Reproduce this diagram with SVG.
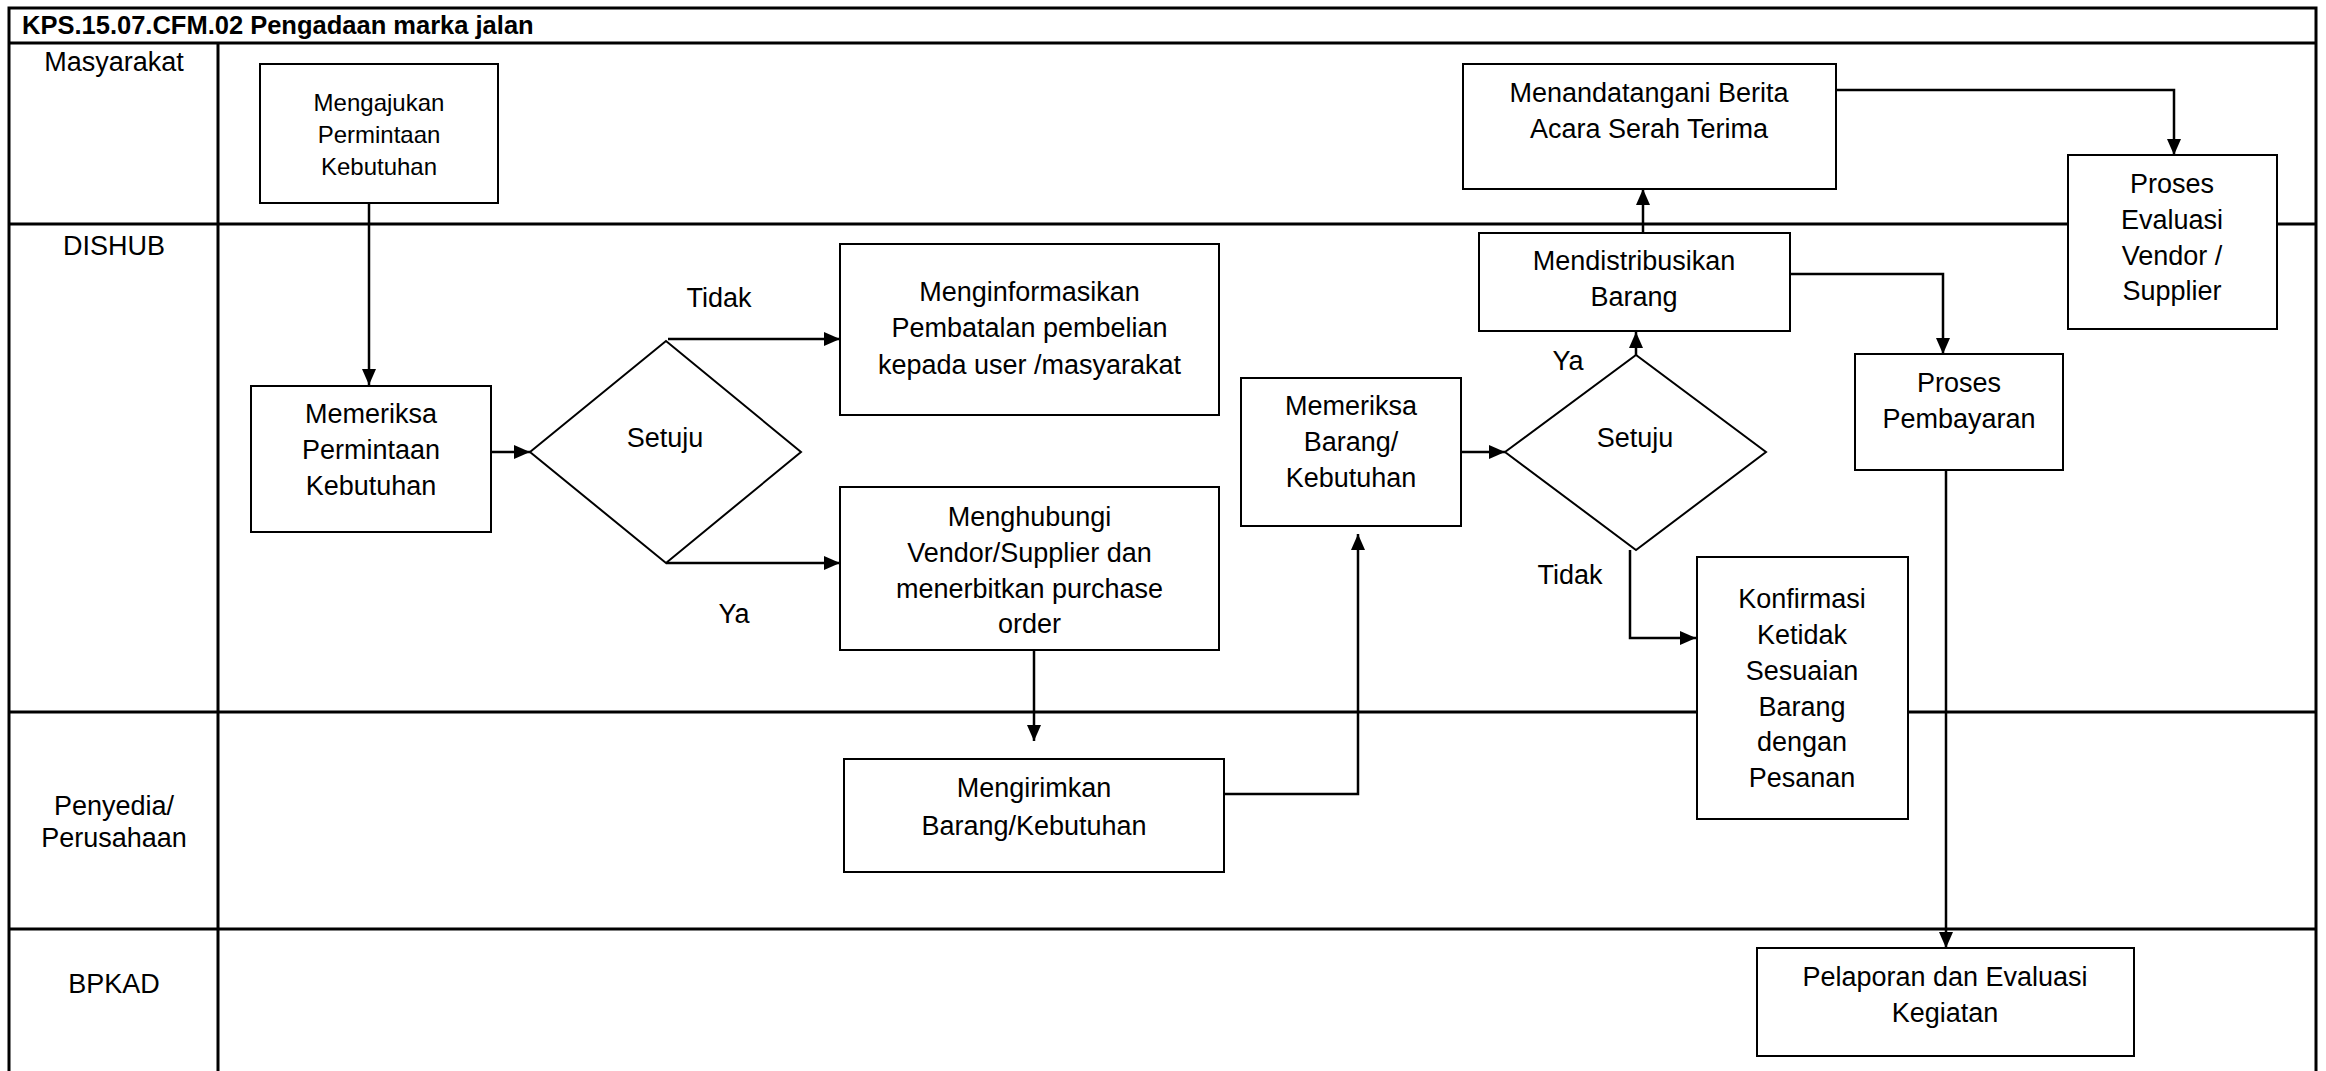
<svg xmlns="http://www.w3.org/2000/svg" width="2326" height="1071" viewBox="0 0 2326 1071">
<style>
  text { font-family: "Liberation Sans", Arial, sans-serif; font-size: 27px; fill: #000; }
  .c { text-anchor: middle; }
  .sm { font-size: 24px; }
  .title { font-weight: bold; font-size: 25.5px; }
  .lane { stroke: #000; stroke-width: 3; fill: none; }
  .box { fill: #fff; stroke: #000; stroke-width: 2; }
  .conn { fill: none; stroke: #000; stroke-width: 2.5; }
</style>
<defs>
  <marker id="arr" markerUnits="userSpaceOnUse" markerWidth="16" markerHeight="14" refX="16" refY="7" orient="auto">
    <path d="M0,0 L16,7 L0,14 Z" fill="#000"/>
  </marker>
</defs>
<rect x="0" y="0" width="2326" height="1071" fill="#fff"/>
<g id="lanes">
  <path class="lane" d="M9,1071 V8 H2316 V1071"/>
  <line class="lane" x1="9" y1="43" x2="2316" y2="43"/>
  <line class="lane" x1="9" y1="224" x2="2316" y2="224"/>
  <line class="lane" x1="9" y1="712" x2="2316" y2="712"/>
  <line class="lane" x1="9" y1="929" x2="2316" y2="929"/>
  <line class="lane" x1="218" y1="43" x2="218" y2="1071"/>
  <text class="title" x="22" y="34">KPS.15.07.CFM.02 Pengadaan marka jalan</text>
  <text class="c" x="114" y="71">Masyarakat</text>
  <text class="c" x="114" y="255">DISHUB</text>
  <text class="c" x="114" y="815">Penyedia/</text>
  <text class="c" x="114" y="847">Perusahaan</text>
  <text class="c" x="114" y="993">BPKAD</text>
</g>
<g id="connectors">
  <path class="conn" d="M369,203 V385" marker-end="url(#arr)"/>
  <path class="conn" d="M491,452 H530" marker-end="url(#arr)"/>
  <path class="conn" d="M668,339 H840" marker-end="url(#arr)"/>
  <path class="conn" d="M666,563 H840" marker-end="url(#arr)"/>
  <path class="conn" d="M1034,650 V741" marker-end="url(#arr)"/>
  <path class="conn" d="M1224,794 H1358 V534" marker-end="url(#arr)"/>
  <path class="conn" d="M1461,452 H1505" marker-end="url(#arr)"/>
  <path class="conn" d="M1636,355 V332" marker-end="url(#arr)"/>
  <path class="conn" d="M1630,550 V638 H1696" marker-end="url(#arr)"/>
  <path class="conn" d="M1643,233 V189" marker-end="url(#arr)"/>
  <path class="conn" d="M1836,90 H2174 V155" marker-end="url(#arr)"/>
  <path class="conn" d="M1790,274 H1943 V354" marker-end="url(#arr)"/>
  <path class="conn" d="M1946,470 V948" marker-end="url(#arr)"/>
  <text class="c" x="719" y="307">Tidak</text>
  <text class="c" x="734" y="623">Ya</text>
  <text class="c" x="1568" y="370">Ya</text>
  <text class="c" x="1570" y="584">Tidak</text>
</g>
<g id="n1">
  <rect class="box" x="260" y="64" width="238" height="139"/>
  <text class="c sm" x="379" y="111">Mengajukan</text>
  <text class="c sm" x="379" y="143">Permintaan</text>
  <text class="c sm" x="379" y="175">Kebutuhan</text>
</g>
<g id="n2">
  <rect class="box" x="251" y="386" width="240" height="146"/>
  <text class="c" x="371" y="423">Memeriksa</text>
  <text class="c" x="371" y="459">Permintaan</text>
  <text class="c" x="371" y="495">Kebutuhan</text>
</g>
<g id="d1">
  <polygon class="box" points="530,452 666,341 801,452 666,563"/>
  <text class="c" x="665" y="447">Setuju</text>
</g>
<g id="n4">
  <rect class="box" x="840" y="244" width="379" height="171"/>
  <text class="c" x="1029.5" y="301">Menginformasikan</text>
  <text class="c" x="1029.5" y="337">Pembatalan pembelian</text>
  <text class="c" x="1029.5" y="374">kepada user /masyarakat</text>
</g>
<g id="n5">
  <rect class="box" x="840" y="487" width="379" height="163"/>
  <text class="c" x="1029.5" y="526">Menghubungi</text>
  <text class="c" x="1029.5" y="562">Vendor/Supplier dan</text>
  <text class="c" x="1029.5" y="598">menerbitkan purchase</text>
  <text class="c" x="1029.5" y="633">order</text>
</g>
<g id="n6">
  <rect class="box" x="844" y="759" width="380" height="113"/>
  <text class="c" x="1034" y="797">Mengirimkan</text>
  <text class="c" x="1034" y="835">Barang/Kebutuhan</text>
</g>
<g id="n7">
  <rect class="box" x="1241" y="378" width="220" height="148"/>
  <text class="c" x="1351" y="415">Memeriksa</text>
  <text class="c" x="1351" y="451">Barang/</text>
  <text class="c" x="1351" y="487">Kebutuhan</text>
</g>
<g id="d2">
  <polygon class="box" points="1505,452 1636,355 1766,452 1636,550"/>
  <text class="c" x="1635" y="447">Setuju</text>
</g>
<g id="n9">
  <rect class="box" x="1479" y="233" width="311" height="98"/>
  <text class="c" x="1634" y="270">Mendistribusikan</text>
  <text class="c" x="1634" y="306">Barang</text>
</g>
<g id="n10">
  <rect class="box" x="1463" y="64" width="373" height="125"/>
  <text class="c" x="1649" y="102">Menandatangani Berita</text>
  <text class="c" x="1649" y="138">Acara Serah Terima</text>
</g>
<g id="n11">
  <rect class="box" x="2068" y="155" width="209" height="174"/>
  <text class="c" x="2172" y="193">Proses</text>
  <text class="c" x="2172" y="229">Evaluasi</text>
  <text class="c" x="2172" y="265">Vendor /</text>
  <text class="c" x="2172" y="300">Supplier</text>
</g>
<g id="n12">
  <rect class="box" x="1855" y="354" width="208" height="116"/>
  <text class="c" x="1959" y="392">Proses</text>
  <text class="c" x="1959" y="428">Pembayaran</text>
</g>
<g id="n13">
  <rect class="box" x="1697" y="557" width="211" height="262"/>
  <text class="c" x="1802" y="608">Konfirmasi</text>
  <text class="c" x="1802" y="644">Ketidak</text>
  <text class="c" x="1802" y="680">Sesuaian</text>
  <text class="c" x="1802" y="716">Barang</text>
  <text class="c" x="1802" y="751">dengan</text>
  <text class="c" x="1802" y="787">Pesanan</text>
</g>
<g id="n14">
  <rect class="box" x="1757" y="948" width="377" height="108"/>
  <text class="c" x="1945" y="986">Pelaporan dan Evaluasi</text>
  <text class="c" x="1945" y="1022">Kegiatan</text>
</g>
</svg>
